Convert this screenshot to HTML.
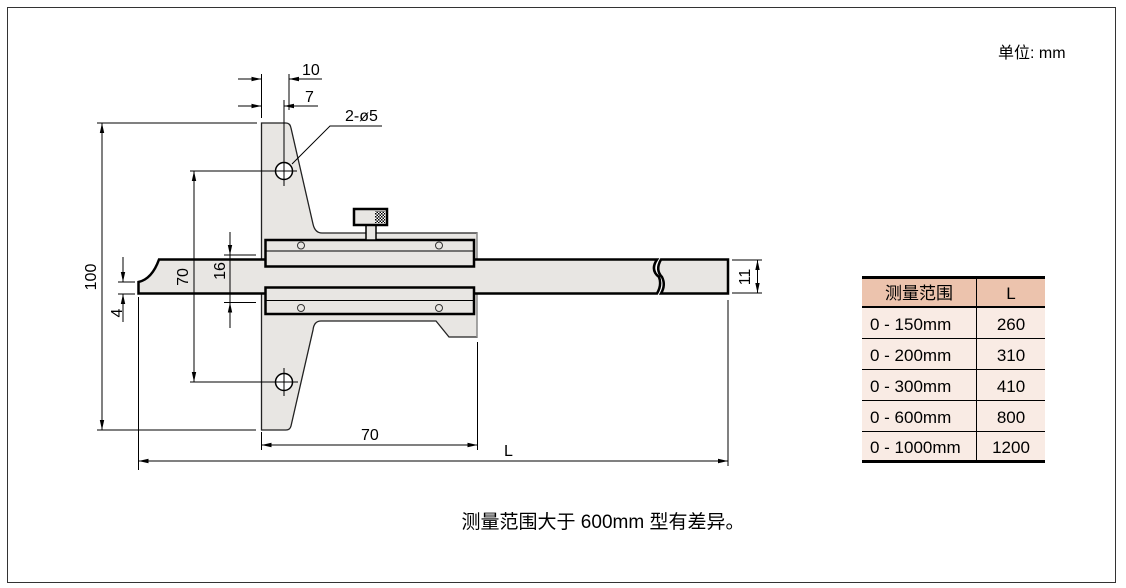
<!DOCTYPE html>
<html><head><meta charset="utf-8"><style>
html,body{margin:0;padding:0;background:#fff;}
svg{display:block;font-family:"Liberation Sans","Noto Sans CJK SC",sans-serif;}
</style></head><body>
<svg width="1126" height="588" viewBox="0 0 1126 588" xmlns="http://www.w3.org/2000/svg">
<defs>
<marker id="a" markerWidth="10" markerHeight="6" refX="10" refY="3" orient="auto" markerUnits="userSpaceOnUse"><path d="M0,0.8 L10,3 L0,5.2 Z" fill="#000"/></marker>
<pattern id="h" width="3" height="3" patternUnits="userSpaceOnUse"><rect width="3" height="3" fill="#fff"/><rect width="1.5" height="1.5" fill="#000"/><rect x="1.5" y="1.5" width="1.5" height="1.5" fill="#000"/></pattern>
</defs>
<rect x="7.5" y="7.5" width="1108" height="575" fill="none" stroke="#333" stroke-width="1"/>
<text x="998" y="58" font-size="16">单位: mm</text>

<path d="M261.5,123 L286,123 Q290,123 291,128 L313,224 Q315,233 322,233 L477,233 L477,337 L449,337 L436,321 L321,321 Q314,321 313,330 L291,426 Q290,430 286,430 L261.5,430 Z" fill="#e8e6e3" stroke="#222" stroke-width="1.3"/>
<line x1="477" y1="233" x2="477" y2="337" stroke="#999" stroke-width="1.3"/>
<path d="M138.5,282 Q152,279 159,259.5 L657,259.5 Q650,270 659,277 Q662,285 657,293.5 L138.5,293.5 Z" fill="#e8e6e3" stroke="#000" stroke-width="2.5"/>
<path d="M661,259.5 L728,259.5 L728,293.5 L661,293.5 Q666,285 662,277 Q655,270 661,259.5 Z" fill="#e8e6e3" stroke="#000" stroke-width="2.5"/>
<rect x="265.5" y="240" width="208.5" height="26.5" fill="#e8e6e3" stroke="#000" stroke-width="2.5"/>
<line x1="265.5" y1="251" x2="474" y2="251" stroke="#000" stroke-width="1"/>
<rect x="265.5" y="287.5" width="208.5" height="26.5" fill="#e8e6e3" stroke="#000" stroke-width="2.5"/>
<line x1="265.5" y1="300.5" x2="474" y2="300.5" stroke="#000" stroke-width="1"/>
<g fill="none" stroke="#333" stroke-width="1">
<circle cx="301" cy="245.5" r="3.5"/><circle cx="439" cy="245.5" r="3.5"/>
<circle cx="301" cy="308" r="3.5"/><circle cx="439" cy="308" r="3.5"/>
</g>
<rect x="366" y="225" width="10" height="15" fill="#e8e6e3" stroke="#000" stroke-width="1.5"/>
<rect x="354" y="209" width="33" height="16" fill="#e8e6e3" stroke="#000" stroke-width="2.5"/>
<rect x="375" y="211" width="10" height="12" fill="url(#h)"/>
<circle cx="284" cy="171" r="8.5" fill="#fff" stroke="#000" stroke-width="1.5"/>
<circle cx="284" cy="382" r="8.5" fill="#fff" stroke="#000" stroke-width="1.5"/>

<g stroke="#000" stroke-width="1" fill="none">
<line x1="284" y1="100" x2="284" y2="186"/>
<line x1="190" y1="171" x2="297" y2="171"/>
<line x1="284" y1="368" x2="284" y2="396"/>
<line x1="190" y1="382" x2="298" y2="382"/>
<line x1="261.5" y1="74" x2="261.5" y2="118"/>
<line x1="289" y1="74" x2="289" y2="110"/>
<line x1="238" y1="79" x2="261.5" y2="79" marker-end="url(#a)"/>
<line x1="322" y1="79" x2="289" y2="79" marker-end="url(#a)"/>
<line x1="238" y1="106" x2="261.5" y2="106" marker-end="url(#a)"/>
<line x1="318" y1="106" x2="284" y2="106" marker-end="url(#a)"/>
<polyline points="292,164 330,126 382,126"/>
<line x1="97" y1="123" x2="257" y2="123"/>
<line x1="97" y1="430" x2="256" y2="430"/>
<line x1="102" y1="276" x2="102" y2="123" marker-end="url(#a)"/>
<line x1="102" y1="276" x2="102" y2="430" marker-end="url(#a)"/>
<line x1="194" y1="276" x2="194" y2="171" marker-end="url(#a)"/>
<line x1="194" y1="276" x2="194" y2="382" marker-end="url(#a)"/>
<line x1="224" y1="255" x2="256" y2="255"/>
<line x1="224" y1="302.5" x2="256" y2="302.5"/>
<line x1="230" y1="232" x2="230" y2="255" marker-end="url(#a)"/>
<line x1="230" y1="328" x2="230" y2="302.5" marker-end="url(#a)"/>
<line x1="230" y1="255" x2="230" y2="302.5"/>
<line x1="118" y1="282" x2="135" y2="282"/>
<line x1="118" y1="294" x2="135" y2="294"/>
<line x1="123" y1="257" x2="123" y2="282" marker-end="url(#a)"/>
<line x1="123" y1="322" x2="123" y2="294" marker-end="url(#a)"/>
<line x1="261.5" y1="432" x2="261.5" y2="450"/>
<line x1="477.5" y1="342" x2="477.5" y2="450"/>
<line x1="370" y1="445" x2="261.5" y2="445" marker-end="url(#a)"/>
<line x1="370" y1="445" x2="477.5" y2="445" marker-end="url(#a)"/>
<line x1="138.5" y1="297" x2="138.5" y2="470"/>
<line x1="728" y1="300" x2="728" y2="466"/>
<line x1="430" y1="461" x2="138.5" y2="461" marker-end="url(#a)"/>
<line x1="430" y1="461" x2="728" y2="461" marker-end="url(#a)"/>
<line x1="732" y1="260" x2="762" y2="260"/>
<line x1="732" y1="293" x2="762" y2="293"/>
<line x1="757.5" y1="276" x2="757.5" y2="260" marker-end="url(#a)"/>
<line x1="757.5" y1="276" x2="757.5" y2="293" marker-end="url(#a)"/>
</g>
<g font-size="16" fill="#000">
<text x="302" y="75">10</text>
<text x="305" y="102">7</text>
<text x="345" y="121">2-ø5</text>
<text x="361" y="440">70</text>
<text x="504" y="456">L</text>
<text transform="translate(96,277) rotate(-90)" text-anchor="middle">100</text>
<text transform="translate(188,277) rotate(-90)" text-anchor="middle">70</text>
<text transform="translate(225,271) rotate(-90)" text-anchor="middle">16</text>
<text transform="translate(122,313) rotate(-90)" text-anchor="middle">4</text>
<text transform="translate(750,277) rotate(-90)" text-anchor="middle">11</text>
</g>

<rect x="862" y="277" width="183" height="30" fill="#ecc3ad"/>
<rect x="862" y="307" width="183" height="155" fill="#f9ebe4"/>
<g stroke="#000">
<line x1="862" y1="277.5" x2="1045" y2="277.5" stroke-width="3"/>
<line x1="862" y1="307" x2="1045" y2="307" stroke-width="2"/>
<line x1="862" y1="338.5" x2="1045" y2="338.5" stroke-width="1"/>
<line x1="862" y1="369.5" x2="1045" y2="369.5" stroke-width="1"/>
<line x1="862" y1="400.5" x2="1045" y2="400.5" stroke-width="1"/>
<line x1="862" y1="431.5" x2="1045" y2="431.5" stroke-width="1"/>
<line x1="862" y1="461.5" x2="1045" y2="461.5" stroke-width="3"/>
<line x1="976.5" y1="277" x2="976.5" y2="462" stroke-width="1"/>
</g>
<g font-size="17" fill="#000">
<text x="919" y="299" text-anchor="middle">测量范围</text>
<text x="1011" y="299" text-anchor="middle">L</text>
<text x="870" y="330">0 - 150mm</text><text x="1011" y="330" text-anchor="middle">260</text>
<text x="870" y="361">0 - 200mm</text><text x="1011" y="361" text-anchor="middle">310</text>
<text x="870" y="392">0 - 300mm</text><text x="1011" y="392" text-anchor="middle">410</text>
<text x="870" y="423">0 - 600mm</text><text x="1011" y="423" text-anchor="middle">800</text>
<text x="870" y="453">0 - 1000mm</text><text x="1011" y="453" text-anchor="middle">1200</text>
</g>
<text x="603" y="528" font-size="19" text-anchor="middle">测量范围大于 600mm 型有差异。</text>
</svg>
</body></html>
